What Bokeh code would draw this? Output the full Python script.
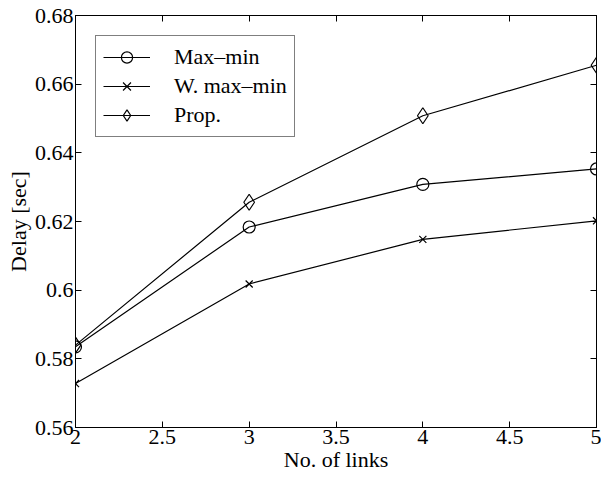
from bokeh.plotting import figure
from bokeh.models import Range1d, FixedTicker, LinearAxis, Legend, LegendItem
from bokeh.embed import file_html
from bokeh.resources import INLINE

# Number of links on the path
links = [2, 3, 4, 5]

# Mean delay [sec] for each allocation policy
delay_maxmin = [0.5835, 0.6184, 0.6308, 0.6353]
delay_wmaxmin = [0.5728, 0.6018, 0.6148, 0.6202]
delay_prop = [0.5840, 0.6256, 0.6508, 0.6655]

series_names = ["Max\u2013min", "W. max\u2013min", "Prop."]

x_ticks = [2, 2.5, 3, 3.5, 4, 4.5, 5]
x_tick_labels = ["2", "2.5", "3", "3.5", "4", "4.5", "5"]
y_ticks = [0.56, 0.58, 0.60, 0.62, 0.64, 0.66, 0.68]
y_tick_labels = ["0.56", "0.58", "0.6", "0.62", "0.64", "0.66", "0.68"]

FONT = "Liberation Serif"
FONT_SIZE = "22px"

p = figure(
    width=601, height=480,
    frame_width=521, frame_height=412,
    x_range=Range1d(2, 5), y_range=Range1d(0.56, 0.68),
    output_backend="svg", toolbar_location=None,
    min_border_left=75, min_border_right=5, min_border_top=15, min_border_bottom=53,
    background_fill_color="white", border_fill_color="white",
)
p.grid.visible = False
p.outline_line_color = "black"
p.outline_line_width = 1

def style_axis(ax, ticks, labels, show_labels=True):
    ax.ticker = FixedTicker(ticks=ticks)
    ax.major_tick_in = 6
    ax.major_tick_out = 0
    ax.minor_tick_in = 0
    ax.minor_tick_out = 0
    ax.axis_line_color = "black"
    ax.major_tick_line_color = "black"
    ax.major_label_text_font = FONT
    ax.major_label_text_font_size = FONT_SIZE
    ax.major_label_text_color = "black"
    ax.axis_label_text_font = FONT
    ax.axis_label_text_font_size = FONT_SIZE
    ax.axis_label_text_font_style = "normal"
    ax.axis_label_text_color = "black"
    if show_labels:
        ax.major_label_overrides = {t: l for t, l in zip(ticks, labels)}
    else:
        ax.major_label_overrides = {t: "" for t in ticks}
        ax.major_label_standoff = 0

style_axis(p.xaxis[0], x_ticks, x_tick_labels)
style_axis(p.yaxis[0], y_ticks, y_tick_labels)
p.xaxis[0].axis_label = "No. of links"
p.yaxis[0].axis_label = "Delay [sec]"
p.xaxis[0].major_label_standoff = 2
p.xaxis[0].axis_label_standoff = 0
p.yaxis[0].major_label_standoff = 2
p.yaxis[0].axis_label_standoff = 1

# mirrored tick marks along the top and right edges of the box
top_ax = LinearAxis()
right_ax = LinearAxis()
style_axis(top_ax, x_ticks, x_tick_labels, show_labels=False)
style_axis(right_ax, y_ticks, y_tick_labels, show_labels=False)
p.add_layout(top_ax, "above")
p.add_layout(right_ax, "right")

items = []
for name, ys, marker, size in [
    (series_names[0], delay_maxmin, "circle", 12),
    (series_names[1], delay_wmaxmin, "x", 10),
    (series_names[2], delay_prop, "diamond", 16),
]:
    ln = p.line(links, ys, line_color="black", line_width=1.2)
    sc = p.scatter(links, ys, marker=marker, size=size, line_color="black",
                   fill_color=None, line_width=1.2)
    items.append(LegendItem(label=name, renderers=[ln, sc]))

legend = Legend(
    items=items, location="top_left",
    label_text_font=FONT, label_text_font_size=FONT_SIZE, label_text_color="black",
    glyph_width=47, glyph_height=28, label_height=28, spacing=1,
    padding=7, margin=20,
    border_line_color="black", border_line_width=1,
    background_fill_color="white", background_fill_alpha=1.0,
    label_standoff=24,
)
p.add_layout(legend)

open("out.html", "w").write(file_html(p, INLINE))
